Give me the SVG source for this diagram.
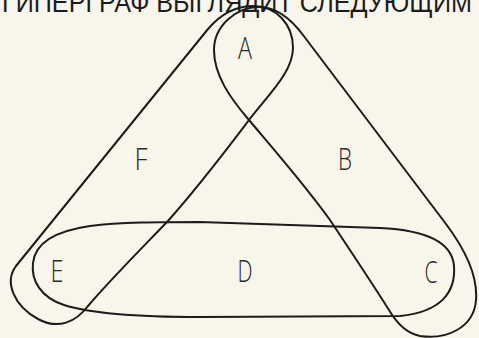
<svg xmlns="http://www.w3.org/2000/svg" width="479" height="338" viewBox="0 0 479 338">
  <style>
    .edge { fill: none; stroke: #1c1c1c; stroke-width: 2; stroke-linejoin: round; stroke-linecap: round; }
    .lbl { font-family: "Open Sans", "Liberation Sans", sans-serif; font-weight: 300; font-size: 32px; fill: #2a2a2a; text-anchor: middle; }
    .title { font-family: "Liberation Sans", "DejaVu Sans", sans-serif; font-size: 28px; fill: #1c1c1c; }
  </style>
  <rect width="479" height="338" fill="#f8f5ea"/>
  <text class="title" x="2" y="12" textLength="470" lengthAdjust="spacingAndGlyphs">ГИПЕРГРАФ ВЫГЛЯДИТ СЛЕДУЮЩИМ</text>
  <g id="connectors">
    <path id="edge-AFE" class="edge" d="M 88,306 C 110,280 140,250 167,222 C 200,185 230,145 249,120 C 268,95 293,72 293,48 C 293,24 276,6 253,6 C 236,6 220,15 208,29 L 16,266 C 4,282 14,306 38,319 C 58,330 76,322 88,306 Z"/>
    <path id="edge-ABC" class="edge" d="M 259,7 C 276,7 291,19 303,35 L 446,224 C 464,248 478,275 476,300 C 474,328 446,340 420,336 C 405,333 396,322 389,310 C 370,280 350,250 330,220 C 305,185 270,145 249,120 C 230,98 214,75 214,50 C 214,26 236,7 259,7 Z"/>
    <path id="edge-EDC" class="edge" d="M 200,222 L 380,228 C 425,230 452,241 454,266 C 456,293 440,312 400,316 L 200,317 C 140,317 92,314 64,305 C 40,297 31,280 33,263 C 35,243 55,231 90,226 C 120,222 160,222 200,222 Z"/>
  </g>
  <g id="node-A"><text class="lbl" x="245" y="59" textLength="14" lengthAdjust="spacingAndGlyphs">A</text></g>
  <g id="node-B"><text class="lbl" x="345" y="170" textLength="14" lengthAdjust="spacingAndGlyphs">B</text></g>
  <g id="node-C"><text class="lbl" x="431" y="283" textLength="13" lengthAdjust="spacingAndGlyphs">C</text></g>
  <g id="node-D"><text class="lbl" x="245" y="282" textLength="15" lengthAdjust="spacingAndGlyphs">D</text></g>
  <g id="node-E"><text class="lbl" x="57" y="282" textLength="13" lengthAdjust="spacingAndGlyphs">E</text></g>
  <g id="node-F"><text class="lbl" x="141" y="170" textLength="13" lengthAdjust="spacingAndGlyphs">F</text></g>
</svg>
